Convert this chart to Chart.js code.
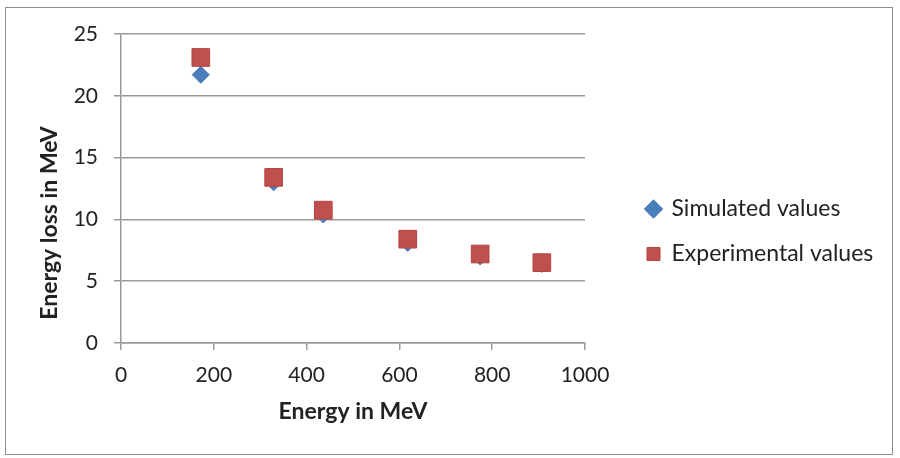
<!DOCTYPE html>
<html>
<head>
<meta charset="utf-8">
<script src="https://cdn.jsdelivr.net/npm/chart.js@4/dist/chart.umd.min.js"></script>
<style>
  html, body { margin: 0; padding: 0; background: #fff; }
  #frame {
    position: absolute; left: 5px; top: 7px;
    width: 886px; height: 446px;
    border: 1px solid #8c8c8c;
  }
  canvas { display: block; }
</style>
</head>
<body>
<div id="frame"><canvas id="chart" width="886" height="446"></canvas></div>
<script>
// Data
const energies = [172, 329, 436, 618, 774, 907];
const simulatedValues = [21.7, 13.0, 10.4, 8.1, 7.0, 6.4];
const experimentalValues = [23.1, 13.4, 10.75, 8.4, 7.2, 6.5];
const seriesNames = ['Simulated values', 'Experimental values'];
const xTitle = 'Energy in MeV';
const yTitle = 'Energy loss in MeV';

const textColor = '#222';
const gridColor = '#999';
const fontFamily = 'Lato, "Liberation Sans", sans-serif';

function toPoints(xs, ys) {
    return xs.map((x, i) => ({ x: x, y: ys[i] }));
}

// Fixed legend width and a right shift of its items
const legendPlacement = {
    id: 'legendPlacement',
    beforeInit(chart) {
        const originalFit = chart.legend.fit;
        chart.legend.fit = function() {
            originalFit.bind(chart.legend)();
            this.width = 307;
        };
    },
    afterLayout(chart) {
        chart.legend.left += 40;
        chart.legend.right += 40;
    }
};

// Vertical axis title, placed where the reference has it
const yTitlePlugin = {
    id: 'yTitlePlugin',
    afterDraw(chart) {
        const ctx = chart.ctx;
        ctx.save();
        ctx.translate(44, 215);
        ctx.rotate(-Math.PI / 2);
        ctx.font = 'bold 23px ' + fontFamily;
        ctx.fillStyle = textColor;
        ctx.textAlign = 'center';
        ctx.textBaseline = 'middle';
        ctx.fillText(yTitle, 0, 0);
        ctx.restore();
    }
};

new Chart(document.getElementById('chart'), {
    type: 'scatter',
    data: {
        datasets: [{
            label: seriesNames[0],
            data: toPoints(energies, simulatedValues),
            pointStyle: 'rectRot',
            pointRadius: 8.5,
            pointHoverRadius: 8.5,
            backgroundColor: '#4a7ebb',
            borderColor: '#4577b3',
            borderWidth: 1,
            order: 1
        }, {
            label: seriesNames[1],
            data: toPoints(energies, experimentalValues),
            pointStyle: 'rect',
            pointRadius: 12.5,
            pointHoverRadius: 12.5,
            backgroundColor: '#c0504d',
            borderColor: '#b44643',
            borderWidth: 1,
            order: 0
        }]
    },
    options: {
        responsive: false,
        animation: false,
        layout: {
            padding: { top: 26, bottom: 25, left: 0, right: 0 }
        },
        plugins: {
            legend: {
                position: 'right',
                labels: {
                    usePointStyle: true,
                    boxWidth: 13,
                    boxHeight: 13,
                    padding: 22,
                    color: textColor,
                    font: { family: fontFamily, size: 23 },
                    sort: (a, b) => a.datasetIndex - b.datasetIndex
                }
            },
            tooltip: { enabled: false }
        },
        scales: {
            x: {
                type: 'linear',
                min: 0,
                max: 1000,
                ticks: {
                    stepSize: 200,
                    color: textColor,
                    padding: 13,
                    maxRotation: 0,
                    format: { useGrouping: false },
                    font: { family: fontFamily, size: 21 }
                },
                grid: {
                    drawOnChartArea: false,
                    drawTicks: true,
                    tickLength: 7,
                    color: gridColor,
                    lineWidth: 1.5
                },
                border: { display: true, color: gridColor, width: 1.5 },
                title: {
                    display: true,
                    text: xTitle,
                    color: textColor,
                    padding: { top: 4, bottom: 4 },
                    font: { family: fontFamily, size: 23, weight: 'bold' }
                },
                afterFit(scale) { scale.height = 86; }
            },
            y: {
                min: 0,
                max: 25,
                ticks: {
                    stepSize: 5,
                    color: textColor,
                    padding: 16,
                    font: { family: fontFamily, size: 21, lineHeight: 0.9 }
                },
                grid: {
                    drawTicks: true,
                    tickLength: 7,
                    color: gridColor,
                    lineWidth: 1.5
                },
                border: { display: true, color: gridColor, width: 1.5 },
                afterFit(scale) { scale.width = 115; }
            }
        }
    },
    plugins: [legendPlacement, yTitlePlugin]
});
</script>
</body>
</html>
